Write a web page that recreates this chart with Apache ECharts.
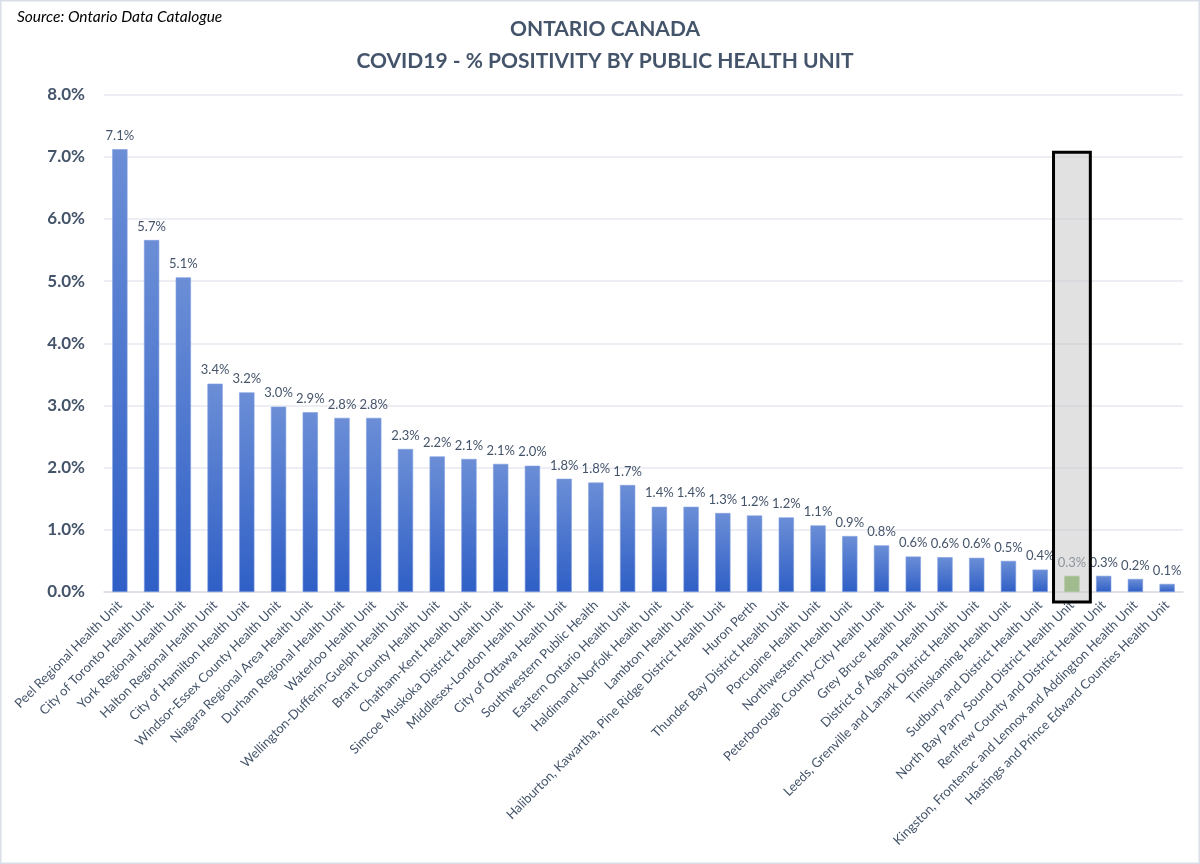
<!DOCTYPE html>
<html>
<head>
<meta charset="utf-8">
<script src="https://cdn.jsdelivr.net/npm/echarts@6/dist/echarts.min.js"></script>
<style>
html,body{margin:0;padding:0;background:#fff;}
#chart{width:1200px;height:864px;}
</style>
</head>
<body>
<div id="chart"></div>
<script>
const categories = [
  "Peel Regional Health Unit",
  "City of Toronto Health Unit",
  "York Regional Health Unit",
  "Halton Regional Health Unit",
  "City of Hamilton Health Unit",
  "Windsor-Essex County Health Unit",
  "Niagara Regional Area Health Unit",
  "Durham Regional Health Unit",
  "Waterloo Health Unit",
  "Wellington-Dufferin-Guelph Health Unit",
  "Brant County Health Unit",
  "Chatham-Kent Health Unit",
  "Simcoe Muskoka District Health Unit",
  "Middlesex-London Health Unit",
  "City of Ottawa Health Unit",
  "Southwestern Public Health",
  "Eastern Ontario Health Unit",
  "Haldimand-Norfolk Health Unit",
  "Lambton Health Unit",
  "Haliburton, Kawartha, Pine Ridge District Health Unit",
  "Huron Perth",
  "Thunder Bay District Health Unit",
  "Porcupine Health Unit",
  "Northwestern Health Unit",
  "Peterborough County-City Health Unit",
  "Grey Bruce Health Unit",
  "District of Algoma Health Unit",
  "Leeds, Grenville and Lanark District Health Unit",
  "Timiskaming Health Unit",
  "Sudbury and District Health Unit",
  "North Bay Parry Sound District Health Unit",
  "Renfrew County and District Health Unit",
  "Kingston, Frontenac and Lennox and Addington Health Unit",
  "Hastings and Prince Edward Counties Health Unit"
];
// % positivity
const positivity = [
  7.12, 5.66, 5.06, 3.35, 3.21, 2.98, 2.89, 2.80, 2.80, 2.30,
  2.18, 2.14, 2.06, 2.03, 1.82, 1.76, 1.72, 1.37, 1.37, 1.27,
  1.23, 1.20, 1.07, 0.90, 0.75, 0.57, 0.56, 0.55, 0.50, 0.36,
  0.26, 0.26, 0.21, 0.13
];
const highlighted = "North Bay Parry Sound District Health Unit";
const yTicks = [0, 1, 2, 3, 4, 5, 6, 7, 8];

const TEXT = '#44546a';
const FONT = 'Lato, "Open Sans", sans-serif';

const chart = echarts.init(document.getElementById('chart'));

const barGradient = new echarts.graphic.LinearGradient(0, 0, 0, 1, [
  {offset: 0, color: '#6b8ed6'},
  {offset: 1, color: '#2f5fc6'}
]);

const seriesData = positivity.map((v, i) => {
  if (categories[i] === highlighted) {
    return {value: v, itemStyle: {color: '#70ad47', borderColor: '#8fc06a'}};
  }
  return v;
});

chart.setOption({
  backgroundColor: '#ffffff',
  animation: false,
  textStyle: {fontFamily: FONT},
  title: [{
    text: 'ONTARIO CANADA\nCOVID19 - % POSITIVITY BY PUBLIC HEALTH UNIT',
    left: 600,
    top: 8,
    textAlign: 'center',
    textStyle: {
      fontFamily: FONT,
      fontSize: 21,
      fontWeight: 'bold',
      color: TEXT,
      lineHeight: 32
    }
  }, {
    text: 'Source: Ontario Data Catalogue',
    left: 12,
    top: 4,
    textStyle: {
      fontFamily: FONT,
      fontSize: 15.5,
      fontStyle: 'italic',
      fontWeight: 'normal',
      color: '#000000'
    }
  }],
  grid: {left: 104, right: 17, top: 94.5, bottom: 272, containLabel: false},
  xAxis: {
    type: 'category',
    data: categories,
    axisTick: {show: false},
    axisLine: {lineStyle: {color: '#d9dde3', width: 1.5}},
    axisLabel: {
      interval: 0,
      rotate: 45,
      color: TEXT,
      fontFamily: FONT,
      fontSize: 13,
      margin: 11
    }
  },
  yAxis: {
    type: 'value',
    min: yTicks[0],
    max: yTicks[yTicks.length - 1],
    interval: 1,
    axisLine: {show: false},
    axisTick: {show: false},
    splitLine: {lineStyle: {color: '#e6e9ef', width: 1.5}},
    axisLabel: {
      color: TEXT,
      fontFamily: FONT,
      fontSize: 17,
      fontWeight: 'bold',
      margin: 19,
      formatter: v => v.toFixed(1) + '%'
    }
  },
  series: [{
    type: 'bar',
    data: seriesData,
    barWidth: '48%',
    itemStyle: {color: barGradient, borderColor: '#7f9de0', borderWidth: 0.6},
    label: {
      show: true,
      position: 'top',
      distance: 7,
      color: TEXT,
      fontFamily: FONT,
      fontSize: 13,
      formatter: p => p.value.toFixed(1) + '%'
    }
  }]
});

// Annotation box around the highlighted unit
function drawBox() {
  const idx = categories.indexOf(highlighted);
  const cx = chart.convertToPixel({xAxisIndex: 0}, categories[idx]);
  const c0 = chart.convertToPixel({xAxisIndex: 0}, categories[0]);
  const c1 = chart.convertToPixel({xAxisIndex: 0}, categories[1]);
  const band = c1 - c0;
  const yTop = chart.convertToPixel({yAxisIndex: 0}, positivity[0]) + 3;
  const yBase = chart.convertToPixel({yAxisIndex: 0}, 0);
  const w = band * 1.16;
  const yBottom = yBase + 10;
  chart.setOption({
    graphic: [{
      type: 'rect',
      z: 100,
      shape: {x: cx - w / 2, y: yTop, width: w, height: yBottom - yTop},
      style: {fill: 'rgba(200,200,200,0.55)', stroke: '#000000', lineWidth: 3}
    }, {
      type: 'rect',
      z: 101,
      silent: true,
      shape: {x: 0.75, y: 0.75, width: 1198.5, height: 862.5},
      style: {fill: 'none', stroke: '#d9dee7', lineWidth: 1.5}
    }]
  });
}
drawBox();
</script>
</body>
</html>
